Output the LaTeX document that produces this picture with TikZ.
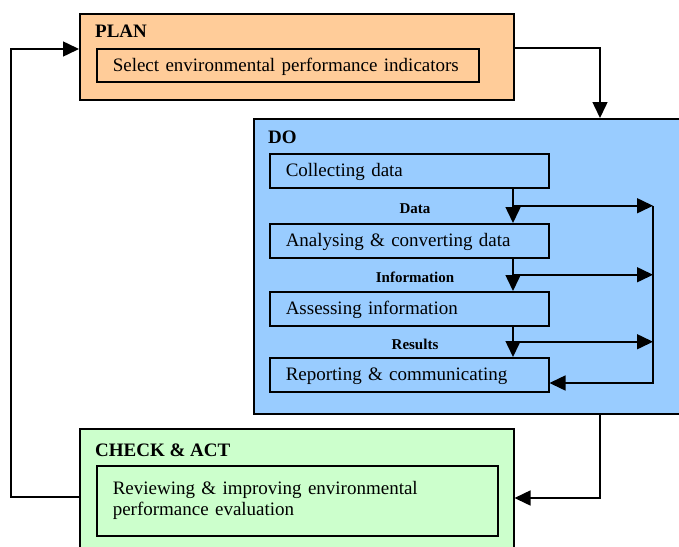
\documentclass[tikz,border=0pt]{standalone}
\usepackage{fontspec}
\setmainfont{Liberation Serif}
\usepackage{tikz}
\usetikzlibrary{arrows.meta,calc}

\definecolor{planorange}{HTML}{FFCC99}
\definecolor{doblue}{HTML}{99CCFF}
\definecolor{checkgreen}{HTML}{CCFFCC}

\begin{document}
\begin{tikzpicture}[
		x = 1pt, y = -1pt,
		every node/.style = {font = \fontsize{19}{21}\selectfont},
		phase/.style = {draw, line width = 1.5pt, anchor = north west, inner sep = 0pt},
		task/.style = {draw, line width = 1.5pt, anchor = north west, inner xsep = 16pt, inner ysep = 0pt, align = left},
		dotask/.style = {task, text width = 247pt, minimum height = 34pt, text depth = 1pt},
		head/.style = {anchor = base west, inner sep = 0pt, font = \fontsize{19}{21}\selectfont\bfseries},
		flow/.style = {inner sep = 0pt, font = \fontsize{15}{17}\selectfont\bfseries},
		conn/.style = {line width = 1.5pt, -{Triangle[length=16pt,width=15pt]}}
	]

	\useasboundingbox (0,0) rectangle (679,546);

	\node[phase, fill=planorange, minimum width=434pt, minimum height=86pt] (plan) at (79,13) {};
	\node[phase, fill=doblue, minimum width=428pt, minimum height=295pt] (do) at (253,118) {};
	\node[phase, fill=checkgreen, minimum width=434pt, minimum height=120pt] (check) at (79,428) {};

	\node[head] (planhead) at (95,37) {PLAN};
	\node[head] (dohead) at (268,143) {DO};
	\node[head] (checkhead) at (95,456) {CHECK \& ACT};

	\node[task, text width=350pt, minimum height=33pt, text depth=1pt] (select) at (96,48) {Select environmental performance indicators};
	\node[dotask] (collect) at (269,153) {Collecting data};
	\node[dotask] (analyse) at (269,223) {Analysing \& converting data};
	\node[dotask] (assess) at (269,291) {Assessing information};
	\node[dotask] (report) at (269,357) {Reporting \& communicating};
	\node[task, text width=369pt, minimum height=70pt] (review) at (96,465) {Reviewing \& improving environmental\\performance evaluation};

	\coordinate (planout) at (600,48);
	\coordinate (planin) at (11,49);
	\coordinate (checkout) at (11,497);
	\coordinate (doout) at (600,498);
	\coordinate (spine) at (513,0);
	\coordinate (rail) at (653,0);
	\coordinate (railend) at (653,383);
	\coordinate (railtop) at ($(collect.south -| rail)!.5!(analyse.north -| rail)$);

	\draw[conn] (plan.east |- planout) -- (planout) -- (planout |- do.north);
	\draw[conn] (doout |- do.south) -- (doout) -- (check.east |- doout);
	\draw[conn] (check.west |- checkout) -- (checkout) -- (planin) -- (plan.west |- planin);

	\foreach \a/\b/\lbl in {collect/analyse/Data, analyse/assess/Information, assess/report/Results}{
		\draw[conn] (\a.south -| spine) -- (\b.north -| spine);
		\draw[conn] ($(\a.south -| spine)!.5!(\b.north -| spine)$) -- ($(\a.south -| rail)!.5!(\b.north -| rail)$);
		\node[flow] (lbl-\a) at ($(\a.south -| spine)!.5!(\b.north -| spine) + (-98,3)$) {\lbl};
	}

	\draw[conn] (railtop) -- (railend) -- (report.east |- railend);

\end{tikzpicture}
\end{document}
